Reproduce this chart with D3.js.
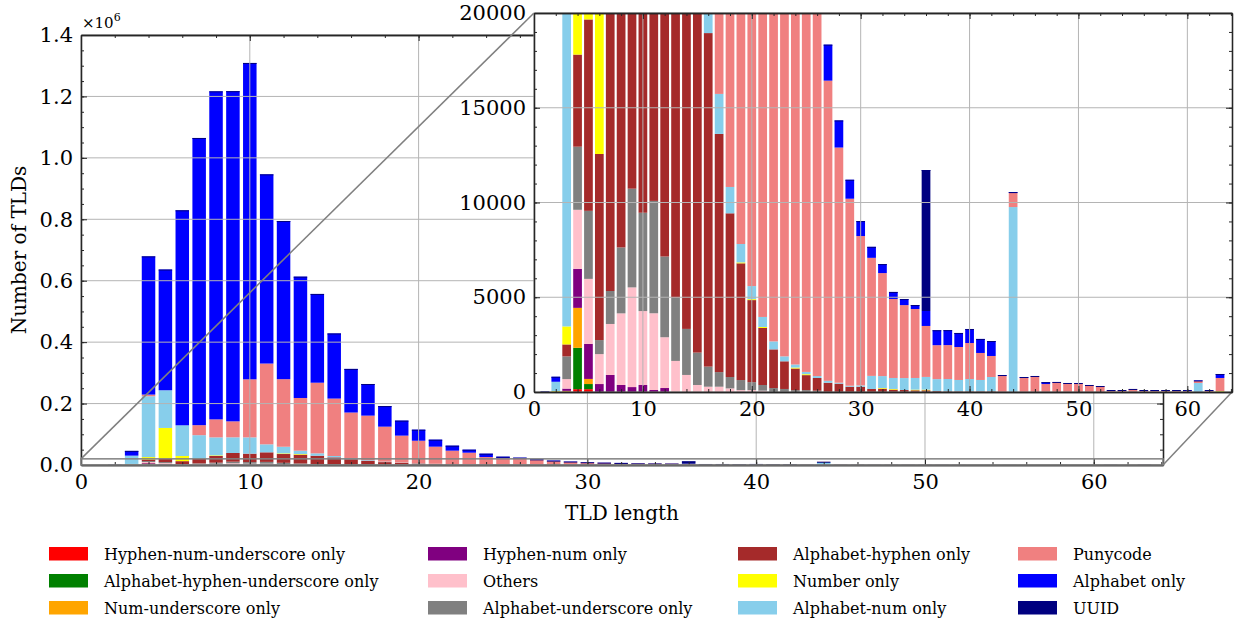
<!DOCTYPE html>
<html>
<head>
<meta charset="utf-8">
<script src="https://cdn.jsdelivr.net/npm/d3@7"></script>
<style>
  body { margin: 0; background: #fff; }
  svg text { font-family: "DejaVu Serif", serif; fill: #000; }
</style>
</head>
<body>
<svg id="chart" width="1235" height="620"></svg>
<script>
// TLD lengths 1..63
var lengths = d3.range(1, 64);

// counts per category, index 0 = length 1
var hyphenNumUnderscore = [0,0,0,150,150,0,0,0,0,0,0,0,0,0,0,0,0,0,0,0,0,0,0,0,0,0,0,0,0,0,0,0,0,0,0,0,0,0,0,0,0,0,0,0,0,0,0,0,0,0,0,0,0,0,0,0,0,0,0,0,0,0,0];
var alphaHyphenUnderscore = [0,0,0,2180,270,0,0,0,0,0,0,0,0,0,0,0,0,0,0,0,0,0,0,0,0,0,0,0,0,0,0,0,0,0,0,0,0,0,0,0,0,0,0,0,0,0,0,0,0,0,0,0,0,0,0,0,0,0,0,0,0,0,0];
var numUnderscore = [0,0,60,2110,270,0,0,0,0,0,0,0,0,0,0,0,0,0,0,0,0,0,0,0,0,0,0,0,0,0,0,0,0,0,0,0,0,0,0,0,0,0,0,0,0,0,0,0,0,0,0,0,0,0,0,0,0,0,0,0,0,0,0];
var hyphenNum = [0,0,120,2060,1850,420,900,370,260,370,105,210,0,0,0,0,0,0,0,0,0,0,0,0,0,0,0,0,0,0,0,0,0,0,0,0,0,0,0,0,0,0,0,0,0,0,0,0,0,0,0,0,0,0,0,0,0,0,0,0,0,0,0];
var others = [0,0,500,3115,3430,1580,2690,3780,5260,3900,4050,2680,1640,900,370,280,280,190,100,100,70,0,0,0,0,0,0,0,0,0,0,0,0,0,0,0,0,0,0,0,0,0,0,0,0,0,0,0,0,0,0,0,0,0,0,0,0,0,0,0,0,0,0];
var alphaUnderscore = [0,0,1200,3330,3590,740,1740,3480,5210,5190,5930,4260,3340,2430,1710,1060,770,600,530,420,300,210,160,100,100,70,0,0,0,0,0,0,0,0,0,0,0,0,0,0,0,0,0,0,0,0,0,0,0,0,0,0,0,0,0,0,0,0,0,0,0,0,0];
var alphaHyphen = [0,0,630,4860,10100,9820,15300,21700,28400,27500,31200,28600,28700,27000,22900,17600,12570,8640,6160,4330,3010,2040,1460,1140,790,670,490,440,280,280,160,175,125,105,90,90,50,35,35,35,35,35,0,0,0,0,0,0,0,0,0,0,0,0,0,0,0,0,0,0,0,0,0];
var numberOnly = [0,50,950,8000,101000,16700,500,2000,0,0,0,2000,2000,0,0,0,0,0,50,50,50,0,0,50,50,0,0,0,0,0,0,35,35,0,35,35,0,0,0,0,0,0,0,0,0,0,0,0,0,0,0,0,0,0,0,0,0,0,0,0,0,0,50];
var alphaNum = [0,490,27000,198000,122700,100000,76000,58600,51000,53000,26000,21700,10900,7600,4300,3900,2110,1390,970,690,530,420,260,160,120,100,100,50,50,70,690,630,580,630,615,670,630,650,600,650,600,756,0,9760,0,0,0,0,0,0,0,0,0,0,0,0,0,0,0,0,475,0,0];
var punycode = [0,0,0,5400,0,0,32600,58600,52000,189000,263000,220000,171600,230000,187000,148000,145000,114000,87800,73400,55700,44000,38200,24500,21500,20000,15840,12410,9870,7880,6230,5435,4170,3850,3640,2690,1790,1790,1740,1900,1425,1110,845,740,740,845,420,530,475,475,370,315,105,105,160,105,105,105,105,50,105,105,690];
var alphabetOnly = [30,264,15500,450000,393000,700000,935000,1068000,1075000,1030000,616000,515000,395000,289000,212000,142000,103000,67000,48900,36000,22800,16300,9800,10900,4500,3000,1900,1430,1000,790,580,475,370,320,210,790,790,790,740,740,740,790,50,50,50,0,100,0,0,0,0,0,0,0,0,0,0,0,0,50,30,0,210];
var uuid = [0,0,0,0,0,0,0,0,0,0,0,0,0,0,0,0,0,0,0,0,0,0,0,0,0,0,0,0,0,0,0,0,0,0,0,7440,0,0,0,0,0,0,0,0,0,0,0,0,0,0,0,0,0,0,0,0,0,0,0,0,0,0,0];

var seriesNames = ["Hyphen-num-underscore only", "Alphabet-hyphen-underscore only", "Num-underscore only",
                   "Hyphen-num only", "Others", "Alphabet-underscore only",
                   "Alphabet-hyphen only", "Number only", "Alphabet-num only",
                   "Punycode", "Alphabet only", "UUID"];
var seriesValues = [hyphenNumUnderscore, alphaHyphenUnderscore, numUnderscore,
                    hyphenNum, others, alphaUnderscore,
                    alphaHyphen, numberOnly, alphaNum,
                    punycode, alphabetOnly, uuid];
var seriesColors = ["#ff0000", "#008000", "#ffa500", "#800080", "#ffc0cb", "#808080",
                    "#a52a2a", "#ffff00", "#87ceeb", "#f08080", "#0000ff", "#000080"];

var mainYTicks = [0, 0.2e6, 0.4e6, 0.6e6, 0.8e6, 1.0e6, 1.2e6, 1.4e6];
var insetYTicks = [0, 5000, 10000, 15000, 20000];
var xTicks = [0, 10, 20, 30, 40, 50, 60];

// table for d3.stack
var rows = lengths.map(function (len, i) {
  var r = { len: len };
  seriesNames.forEach(function (name, k) { r[name] = seriesValues[k][i]; });
  return r;
});
var stacked = d3.stack().keys(seriesNames)(rows);
var color = d3.scaleOrdinal().domain(seriesNames).range(seriesColors);

var svg = d3.select('#chart');
svg.append('rect').attr('width', 1235).attr('height', 620).attr('fill', '#fff');

var xMax = 64.1;
var gridColor = '#b4b4b4';
var spineColor = '#262626';
var serif = '"DejaVu Serif", serif';

// main plot
var main = { left: 81, right: 1163, top: 35, bottom: 465 };
var x = d3.scaleLinear().domain([0, xMax]).range([main.left, main.right]);
var y = d3.scaleLinear().domain([0, 1.4e6]).range([main.bottom, main.top]);

// inset plot
var ins = { left: 534, right: 1232, top: 13, bottom: 392 };
var xi = d3.scaleLinear().domain([0, xMax]).range([ins.left, ins.right]);
var yi = d3.scaleLinear().domain([0, 20000]).range([ins.bottom, ins.top]);

function drawBars(g, xs, ys) {
  var bw = xs(0.8) - xs(0);
  g.selectAll('g.layer')
    .data(stacked)
    .enter().append('g')
    .attr('class', 'layer')
    .attr('fill', function (d) { return color(d.key); })
    .selectAll('rect')
    .data(function (d) { return d; })
    .enter().append('rect')
    .attr('x', function (d) { return xs(d.data.len) - bw / 2; })
    .attr('width', bw)
    .attr('y', function (d) { return ys(d[1]); })
    .attr('height', function (d) { return Math.max(0, ys(d[0]) - ys(d[1])); });

  // thin dark edge on top of every bar
  var top = stacked[stacked.length - 1];
  g.selectAll('line.cap')
    .data(top.filter(function (d) { return d[1] > 0; }))
    .enter().append('line')
    .attr('class', 'cap')
    .attr('x1', function (d) { return xs(d.data.len) - bw / 2; })
    .attr('x2', function (d) { return xs(d.data.len) + bw / 2; })
    .attr('y1', function (d) { return ys(d[1]) + 0.5; })
    .attr('y2', function (d) { return ys(d[1]) + 0.5; })
    .attr('stroke', '#000080')
    .attr('stroke-width', 1);
}

function drawGrid(g, xs, ys, yTicks, box) {
  g.selectAll('line.gx').data(xTicks).enter().append('line')
    .attr('x1', xs).attr('x2', xs).attr('y1', box.top).attr('y2', box.bottom)
    .attr('stroke', gridColor).attr('stroke-width', 1);
  g.selectAll('line.gy').data(yTicks).enter().append('line')
    .attr('y1', ys).attr('y2', ys).attr('x1', box.left).attr('x2', box.right)
    .attr('stroke', gridColor).attr('stroke-width', 1);
}

function drawAxes(g, xs, ys, yTicks, yMinorStep, box, yFormat) {
  var xMinor = d3.range(0, xMax, 2);
  var yMinor = d3.range(0, ys.domain()[1] + 1, yMinorStep);

  function styleAxis(sel) {
    sel.selectAll('path').attr('stroke', spineColor).attr('stroke-width', 1.3);
    sel.selectAll('line').attr('stroke', spineColor).attr('stroke-width', 1);
    sel.selectAll('text').attr('font-size', 21).attr('font-family', serif).attr('fill', '#000');
  }

  g.append('g').attr('transform', 'translate(0,' + box.bottom + ')')
    .call(d3.axisBottom(xs).tickValues(xTicks).tickSize(-6).tickSizeOuter(0).tickPadding(9).tickFormat(d3.format('d')))
    .call(styleAxis);
  g.append('g').attr('transform', 'translate(0,' + box.bottom + ')')
    .call(d3.axisBottom(xs).tickValues(xMinor).tickSize(-3).tickSizeOuter(0).tickFormat(''))
    .call(styleAxis);
  g.append('g').attr('transform', 'translate(0,' + box.top + ')')
    .call(d3.axisTop(xs).tickValues(xTicks).tickSize(-6).tickSizeOuter(0).tickFormat(''))
    .call(styleAxis);
  g.append('g').attr('transform', 'translate(0,' + box.top + ')')
    .call(d3.axisTop(xs).tickValues(xMinor).tickSize(-3).tickSizeOuter(0).tickFormat(''))
    .call(styleAxis);

  g.append('g').attr('transform', 'translate(' + box.left + ',0)')
    .call(d3.axisLeft(ys).tickValues(yTicks).tickSize(-6).tickSizeOuter(0).tickPadding(8).tickFormat(yFormat))
    .call(styleAxis);
  g.append('g').attr('transform', 'translate(' + box.left + ',0)')
    .call(d3.axisLeft(ys).tickValues(yMinor).tickSize(-3).tickSizeOuter(0).tickFormat(''))
    .call(styleAxis);
  g.append('g').attr('transform', 'translate(' + box.right + ',0)')
    .call(d3.axisRight(ys).tickValues(yTicks).tickSize(-6).tickSizeOuter(0).tickFormat(''))
    .call(styleAxis);
  g.append('g').attr('transform', 'translate(' + box.right + ',0)')
    .call(d3.axisRight(ys).tickValues(yMinor).tickSize(-3).tickSizeOuter(0).tickFormat(''))
    .call(styleAxis);
}

// ---- main chart
var gMain = svg.append('g');
drawBars(gMain.append('g'), x, y);
drawGrid(gMain.append('g'), x, y, mainYTicks, main);
drawAxes(gMain.append('g'), x, y, mainYTicks, 0.05e6, main, function (d) { return (d / 1e6).toFixed(1); });

// zoom indicator and connectors
gMain.append('rect')
  .attr('x', x(0)).attr('y', y(20000))
  .attr('width', x(xMax) - x(0)).attr('height', y(0) - y(20000))
  .attr('fill', 'none').attr('stroke', '#808080').attr('stroke-width', 1.5);
gMain.append('line')
  .attr('x1', x(0)).attr('y1', y(20000)).attr('x2', ins.left).attr('y2', ins.top)
  .attr('stroke', '#808080').attr('stroke-width', 1.5);
gMain.append('line')
  .attr('x1', x(xMax)).attr('y1', y(0)).attr('x2', ins.right).attr('y2', ins.bottom)
  .attr('stroke', '#808080').attr('stroke-width', 1.5);

// offset text
var off = svg.append('text').attr('x', 82).attr('y', 28).attr('font-size', 15);
off.append('tspan').text('×10');
off.append('tspan').attr('font-size', 11).attr('dy', -7).text('6');

// axis labels
svg.append('text').attr('x', (main.left + main.right) / 2).attr('y', 520)
  .attr('text-anchor', 'middle').attr('font-size', 20).text('TLD length');
svg.append('text').attr('transform', 'translate(26,' + (main.top + main.bottom) / 2 + ') rotate(-90)')
  .attr('text-anchor', 'middle').attr('font-size', 20).text('Number of TLDs');

// ---- inset
var gIns = svg.append('g');
gIns.append('rect').attr('x', ins.left).attr('y', ins.top)
  .attr('width', ins.right - ins.left).attr('height', ins.bottom - ins.top).attr('fill', '#fff');
svg.append('clipPath').attr('id', 'insClip').append('rect')
  .attr('x', ins.left).attr('y', ins.top)
  .attr('width', ins.right - ins.left).attr('height', ins.bottom - ins.top);
drawBars(gIns.append('g').attr('clip-path', 'url(#insClip)'), xi, yi);
drawGrid(gIns.append('g'), xi, yi, insetYTicks, ins);
drawAxes(gIns.append('g'), xi, yi, insetYTicks, 1000, ins, d3.format('d'));

// ---- legend
var legendX = [49, 428, 738, 1018];
var legendY = [554, 581, 608];
var legend = svg.append('g');
seriesNames.forEach(function (name, k) {
  var col = Math.floor(k / 3), row = k % 3;
  legend.append('rect')
    .attr('x', legendX[col]).attr('y', legendY[row] - 7)
    .attr('width', 39).attr('height', 13.5)
    .attr('fill', seriesColors[k]);
  legend.append('text')
    .attr('x', legendX[col] + 55).attr('y', legendY[row] + 6)
    .attr('font-size', 16).text(name);
});
</script>
</body>
</html>
